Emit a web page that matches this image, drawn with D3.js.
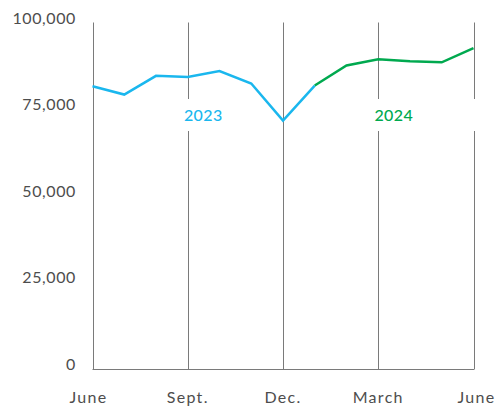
<!DOCTYPE html>
<html>
<head>
<meta charset="utf-8">
<script src="https://cdn.jsdelivr.net/npm/d3@7"></script>
<style>
  body { margin: 0; background: #fff; }
  text { font-family: Lato, "Open Sans", sans-serif; }
</style>
</head>
<body>
<div id="chart"></div>
<script>
// months from June 2023 (0) to June 2024 (12)
let months2023 = [0, 1, 2, 3, 4, 5, 6, 7];
let values2023 = [81600, 79200, 84600, 84300, 86000, 82400, 71700, 81800];
let months2024 = [7, 8, 9, 10, 11, 12];
let values2024 = [81800, 87600, 89400, 88800, 88500, 92600];

let tickMonths = [0, 3, 6, 9, 12];
let tickLabels = ["June", "Sept.", "Dec.", "March", "June"];
let yTicks = [0, 25000, 50000, 75000, 100000];

let yearLabels = ["2023", "2024"];
let yearMonths = [3, 9];

let width = 498, height = 408;
let blue = "#1ab7ee", green = "#00a94f";

let x = d3.scaleLinear().domain([0, 12]).range([92.5, 473.5]);
let y = d3.scaleLinear().domain([0, 100000]).range([369, 22.5]);

let svg = d3.select("#chart").append("svg")
  .attr("width", width)
  .attr("height", height);

// vertical gridlines, some broken where the year labels sit
let gapTop = 99, gapBottom = 131;
tickMonths.forEach((m, i) => {
  let gx = Math.round(x(m)) + 0.5;
  let broken = (i == 1 || i == 3 || i == 4);
  let segs = broken ? [[y(100000), gapTop], [gapBottom, y(0)]] : [[y(100000), y(0)]];
  segs.forEach(s => {
    svg.append("line")
      .attr("x1", gx).attr("x2", gx)
      .attr("y1", s[0]).attr("y2", s[1])
      .attr("stroke", "#7a7a7a")
      .attr("stroke-width", 1);
  });
});

// baseline
svg.append("line")
  .attr("x1", x(0)).attr("x2", x(12) + 1)
  .attr("y1", y(0) + 0.5).attr("y2", y(0) + 0.5)
  .attr("stroke", "#7a7a7a");

// y labels
svg.selectAll(".ylab")
  .data(yTicks)
  .enter()
  .append("text")
  .attr("x", 76)
  .attr("y", d => y(d) + 1)
  .attr("text-anchor", "end")
  .attr("font-size", 16)
  .attr("letter-spacing", 0.6)
  .attr("fill", "#4d4d4d")
  .text(d => d3.format(",")(d));

// x labels
svg.selectAll(".xlab")
  .data(tickMonths)
  .enter()
  .append("text")
  .attr("x", (d, i) => x(d) + (i == 0 ? -4 : i == 4 ? 3 : 0))
  .attr("y", 403)
  .attr("text-anchor", "middle")
  .attr("font-size", 16)
  .attr("letter-spacing", 1.3)
  .attr("fill", "#4d4d4d")
  .text((d, i) => tickLabels[i]);

let line = d3.line()
  .x(d => x(d[0]))
  .y(d => y(d[1]));

svg.append("path")
  .datum(months2023.map((m, i) => [m, values2023[i]]))
  .attr("d", line)
  .attr("fill", "none")
  .attr("stroke", blue)
  .attr("stroke-width", 2.5)
  .attr("stroke-linejoin", "miter");

svg.append("path")
  .datum(months2024.map((m, i) => [m, values2024[i]]))
  .attr("d", line)
  .attr("fill", "none")
  .attr("stroke", green)
  .attr("stroke-width", 2.5);

// year labels
svg.selectAll(".yearlab")
  .data(yearLabels)
  .enter()
  .append("text")
  .attr("x", (d, i) => x(yearMonths[i]) + 15.5)
  .attr("y", 121)
  .attr("text-anchor", "middle")
  .attr("font-size", 16)
  .attr("font-weight", 500)
  .attr("letter-spacing", 0.4)
  .attr("fill", (d, i) => i == 0 ? blue : green)
  .text(d => d);
</script>
</body>
</html>
